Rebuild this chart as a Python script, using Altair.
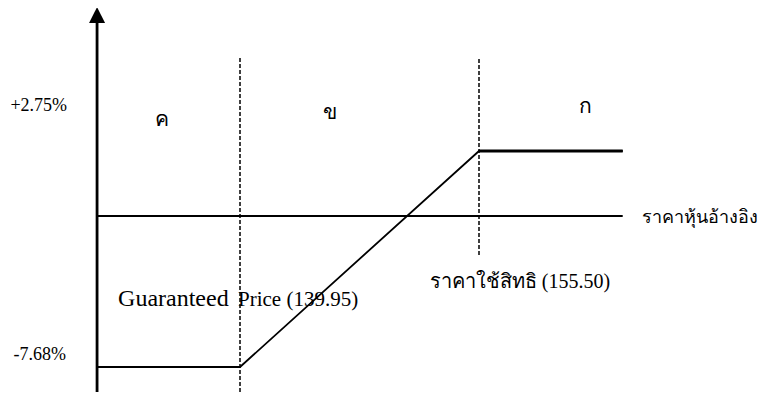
import altair as alt
import pandas as pd

# ---- values ----
guaranteed_price = 139.95
strike_price = 155.50
price_origin = 130.65      # where the vertical axis sits (estimated)
price_end = 164.85         # right end of the drawn lines (estimated)
upside_pct = 2.75
downside_pct = -7.68
axis_top_pct = 8.5         # arrow head (estimated, schematic)
axis_bottom_pct = -8.95    # bottom edge (estimated, schematic)
dash_top_pct = 6.68        # top of dashed guides (estimated)
strike_dash_bottom_pct = -1.98

payoff_price = [price_origin, guaranteed_price, strike_price, price_end]
payoff_pct = [downside_pct, downside_pct, upside_pct, upside_pct]

zone_labels = ["ค", "ข", "ก"]
upside_label = "+2.75%"
downside_label = "-7.68%"
x_axis_label = "ราคาหุ้นอ้างอิง"
guaranteed_word = "Guaranteed"
guaranteed_rest = "Price (139.95)"
strike_label = "ราคาใช้สิทธิ (155.50)"

SERIF = "Liberation Serif, Times New Roman, serif"

x_scale = alt.Scale(domain=[guaranteed_price, strike_price], range=[232, 471], nice=False, zero=False)
y_scale = alt.Scale(domain=[downside_pct, 0, upside_pct], range=[359, 208, 143], nice=False, zero=False)


def X(f):
    return alt.X(f, type="quantitative", scale=x_scale, axis=None)


def Y(f):
    return alt.Y(f, type="quantitative", scale=y_scale, axis=None)


# vertical axis with arrow
axis_df = pd.DataFrame({"x": [price_origin], "y": [axis_bottom_pct], "y2": [axis_top_pct]})
axis_rule = alt.Chart(axis_df).mark_rule(color="black", strokeWidth=2.8).encode(
    x=X("x"), y=Y("y"), y2=alt.Y2("y2"))
arrow = alt.Chart(axis_df).mark_point(
    shape="M0,-1L1,1L-1,1Z", filled=True, fill="black", stroke="black",
    strokeWidth=0, size=256, opacity=1).encode(x=X("x"), y=Y("y2"))

# horizontal zero line
zero_df = pd.DataFrame({"x": [price_origin], "x2": [price_end], "y": [0.0]})
zero_rule = alt.Chart(zero_df).mark_rule(color="black", strokeWidth=2).encode(
    x=X("x"), x2=alt.X2("x2"), y=Y("y"))

# dashed guides
dash_df = pd.DataFrame({
    "x": [guaranteed_price, strike_price],
    "y": [axis_bottom_pct, strike_dash_bottom_pct],
    "y2": [dash_top_pct, dash_top_pct],
})
dashes = alt.Chart(dash_df).mark_rule(color="black", strokeWidth=1.5, strokeDash=[4, 2]).encode(
    x=X("x"), y=Y("y"), y2=alt.Y2("y2"))

# payoff line
pay_df = pd.DataFrame({"price": payoff_price, "pct": payoff_pct, "o": list(range(len(payoff_price)))})
payoff = alt.Chart(pay_df).mark_line(color="black", strokeWidth=1.8).encode(
    x=X("price"), y=Y("pct"), order="o:Q")
bottom_df = pd.DataFrame({"x": [price_origin], "x2": [guaranteed_price], "y": [downside_pct]})
payoff_bottom = alt.Chart(bottom_df).mark_rule(color="black", strokeWidth=2.2).encode(
    x=X("x"), x2=alt.X2("x2"), y=Y("y"))
top_df = pd.DataFrame({"x": [strike_price], "x2": [price_end], "y": [upside_pct]})
payoff_top = alt.Chart(top_df).mark_rule(color="black", strokeWidth=3).encode(
    x=X("x"), x2=alt.X2("x2"), y=Y("y"))


def label(text, xv, yv, dx, dy, size, align="center", baseline="middle"):
    df = pd.DataFrame({"x": [xv], "y": [yv], "t": [text]})
    return alt.Chart(df).mark_text(
        font=SERIF, fontSize=size, color="black", align=align, baseline=baseline,
        dx=dx, dy=dy).encode(x=X("x"), y=Y("y"), text="t:N")


labels = [
    label(upside_label, price_origin, upside_pct, -30, -45, 18, align="right"),
    label(downside_label, price_origin, downside_pct, -31, -12, 18, align="right"),
    label(zone_labels[0], guaranteed_price, upside_pct, -78, -31, 21),
    label(zone_labels[1], guaranteed_price, upside_pct, 90, -38, 21),
    label(zone_labels[2], strike_price, upside_pct, 106, -44, 21),
    label(x_axis_label, price_end, 0.0, 19, 2, 18, align="left"),
    label(guaranteed_word, price_origin, 0.0, 21, 90, 24, align="left", baseline="alphabetic"),
    label(guaranteed_rest, guaranteed_price, 0.0, -2, 90, 21, align="left", baseline="alphabetic"),
    label(strike_label, strike_price, 0.0, 41, 66, 20),
]

chart = alt.layer(axis_rule, arrow, zero_rule, dashes, payoff, payoff_bottom, payoff_top, *labels).properties(
    width=754, height=384, padding=0, autosize="none", background="white"
).configure_view(stroke=None)

chart.save("out.html", embed_options={"renderer": "svg", "actions": False})
